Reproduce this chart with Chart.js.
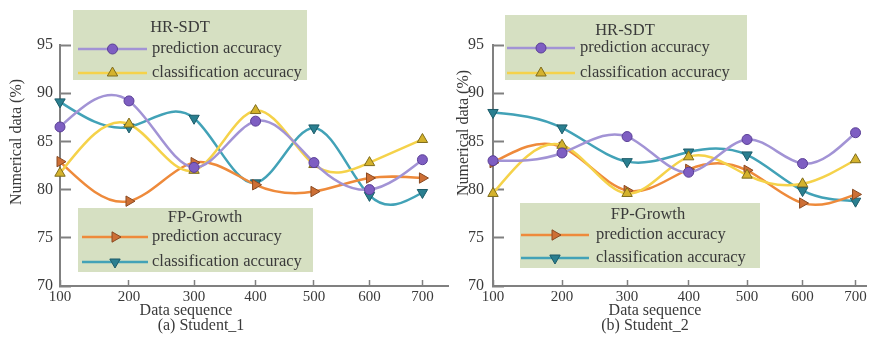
<!DOCTYPE html>
<html>
<head>
<meta charset="utf-8">
<title>Prediction and classification accuracy</title>
<script src="https://cdn.jsdelivr.net/npm/chart.js@4.4.1/dist/chart.umd.min.js"></script>
<style>
  body { margin: 0; background: #fff; }
  .wrap { position: absolute; top: 0; height: 344px; }
  #left { left: 0; width: 455px; }
  #right { left: 455px; width: 420px; }
</style>
</head>
<body>
<div class="wrap" id="left"><canvas id="chart1"></canvas></div>
<div class="wrap" id="right"><canvas id="chart2"></canvas></div>
<script>
// x values and y ticks
const sequence = [100, 200, 300, 400, 500, 600, 700];
const yTicks = [70, 75, 80, 85, 90, 95];
const rowLabels = ["prediction accuracy", "classification accuracy"];

// (a) Student_1
const s1HrPrediction = [86.5, 89.2, 82.3, 87.1, 82.8, 80.0, 83.1];
const s1HrClassification = [81.7, 86.8, 82.0, 88.2, 82.6, 82.8, 85.2];
const s1FpPrediction = [82.9, 78.8, 82.8, 80.5, 79.8, 81.2, 81.2];
const s1FpClassification = [89.1, 86.5, 87.4, 80.7, 86.4, 79.4, 79.7];

// (b) Student_2
const s2HrPrediction = [83.0, 83.8, 85.5, 81.8, 85.2, 82.7, 85.9];
const s2HrClassification = [79.6, 84.6, 79.6, 83.4, 81.5, 80.6, 83.1];
const s2FpPrediction = [82.8, 84.4, 79.9, 82.1, 82.0, 78.6, 79.5];
const s2FpClassification = [88.0, 86.4, 82.9, 83.9, 83.6, 79.9, 78.8];

const serif = "Liberation Serif";
const textColor = "#3a3a3a";
const axisColor = "#808080";

const series = {
  hrPred:  { line: "#a293d5", fill: "#7e5ec2", edge: "#5a3f96", pointStyle: "circle",   rotation: 0,   radius: 5 },
  hrClass: { line: "#f5d24a", fill: "#d4b22c", edge: "#7f6c1c", pointStyle: "triangle", rotation: 0,   radius: 6 },
  fpPred:  { line: "#ee8a3b", fill: "#cd6f35", edge: "#8a4a22", pointStyle: "triangle", rotation: 90,  radius: 6 },
  fpClass: { line: "#42a2b7", fill: "#2a7f90", edge: "#1c5b68", pointStyle: "triangle", rotation: 180, radius: 6 }
};

// x axis is spaced like log(v + 1500): tick gaps shrink to the right
const SHIFT = 1500;
class SequenceScale extends Chart.LinearScale {
  static id = "sequence";
  static defaults = Chart.LinearScale.defaults;
  warp(v) { return Math.log(v + SHIFT); }
  getPixelForValue(value) {
    const a = this.warp(this.min), b = this.warp(this.max);
    return this.getPixelForDecimal((this.warp(value) - a) / (b - a));
  }
  getValueForPixel(pixel) {
    const a = this.warp(this.min), b = this.warp(this.max);
    return Math.exp(a + this.getDecimalForPixel(pixel) * (b - a)) - SHIFT;
  }
}
Chart.register(SequenceScale);

// replace the default bezier control points with a natural cubic spline y(x)
const naturalSpline = {
  id: "naturalSpline",
  beforeDatasetDraw(chart, args) {
    const line = args.meta.dataset;
    const pts = args.meta.data;
    const n = pts.length;
    if (!line || n < 3) return;
    line.updateControlPoints(chart.chartArea);
    const x = pts.map((p) => p.x), y = pts.map((p) => p.y);
    const h = [];
    for (let i = 0; i < n - 1; i++) h.push(x[i + 1] - x[i]);
    // tridiagonal solve for second derivatives, ends held at zero
    const M = new Array(n).fill(0);
    const c = new Array(n).fill(0), d = new Array(n).fill(0);
    for (let i = 1; i < n - 1; i++) {
      const a = h[i - 1], b = 2 * (h[i - 1] + h[i]), cc = h[i];
      const r = 6 * ((y[i + 1] - y[i]) / h[i] - (y[i] - y[i - 1]) / h[i - 1]);
      const den = b - a * c[i - 1];
      c[i] = cc / den;
      d[i] = (r - a * d[i - 1]) / den;
    }
    for (let i = n - 2; i >= 1; i--) M[i] = d[i] - c[i] * M[i + 1];
    for (let i = 0; i < n - 1; i++) {
      const s = (y[i + 1] - y[i]) / h[i];
      const d0 = s - h[i] * (2 * M[i] + M[i + 1]) / 6;
      const d1 = s + h[i] * (M[i] + 2 * M[i + 1]) / 6;
      pts[i].cp2x = x[i] + h[i] / 3;
      pts[i].cp2y = y[i] + d0 * h[i] / 3;
      pts[i + 1].cp1x = x[i + 1] - h[i] / 3;
      pts[i + 1].cp1y = y[i + 1] - d1 * h[i] / 3;
    }
  }
};

function makeDataset(key, label, values) {
  const s = series[key];
  return {
    label: label,
    data: sequence.map((x, i) => ({ x: x, y: values[i] })),
    borderColor: s.line,
    backgroundColor: s.fill,
    borderWidth: 2.5,
    pointStyle: s.pointStyle,
    pointRotation: s.rotation,
    pointRadius: s.radius,
    pointBackgroundColor: s.fill,
    pointBorderColor: s.edge,
    pointBorderWidth: 1,
    tension: 0.5,
    clip: false,
    fill: false
  };
}

// grouped legend boxes and free text (axis titles, captions)
const decor = {
  id: "decor",
  beforeDatasetsDraw(chart, args, opts) {
    const ctx = chart.ctx;
    ctx.save();
    opts.legends.forEach((lg) => {
      const [bx, by, bw, bh] = lg.box;
      ctx.fillStyle = "#d6e0c2";
      ctx.fillRect(bx, by, bw, bh);
      ctx.font = "16.5px '" + serif + "'";
      ctx.textBaseline = "middle";
      ctx.textAlign = "center";
      ctx.fillStyle = textColor;
      ctx.fillText(lg.title, lg.titleAt[0], lg.titleAt[1]);
      lg.keys.forEach((key, i) => {
        const s = series[key];
        const y = lg.rows[i];
        ctx.strokeStyle = s.line;
        ctx.lineWidth = 2.5;
        ctx.beginPath();
        ctx.moveTo(lg.line[0], y);
        ctx.lineTo(lg.line[1], y);
        ctx.stroke();
        ctx.fillStyle = s.fill;
        ctx.strokeStyle = s.edge;
        ctx.lineWidth = 1;
        Chart.helpers.drawPoint(ctx, { pointStyle: s.pointStyle, rotation: s.rotation, radius: s.radius, borderWidth: 1 },
          (lg.line[0] + lg.line[1]) / 2, y);
        ctx.fillStyle = textColor;
        ctx.textAlign = "left";
        ctx.fillText(rowLabels[i], lg.text, y);
      });
    });
    ctx.restore();
  },
  afterDraw(chart, args, opts) {
    const ctx = chart.ctx;
    ctx.save();
    ctx.fillStyle = textColor;
    ctx.font = "16px '" + serif + "'";
    ctx.textAlign = "center";
    ctx.textBaseline = "middle";
    opts.texts.forEach((t) => {
      ctx.save();
      ctx.translate(t.x, t.y);
      if (t.rotate) ctx.rotate(-Math.PI / 2);
      ctx.fillText(t.text, 0, 0);
      ctx.restore();
    });
    ctx.restore();
  }
};

function makeChart(id, datasets, cfg) {
  return new Chart(document.getElementById(id), {
    type: "line",
    data: { datasets: datasets },
    plugins: [decor, naturalSpline],
    options: {
      responsive: true,
      maintainAspectRatio: false,
      animation: false,
      layout: { padding: { top: 45, right: 5, left: 0, bottom: 0 } },
      plugins: {
        legend: { display: false },
        tooltip: { enabled: false },
        decor: { legends: cfg.legends, texts: cfg.texts }
      },
      scales: {
        x: {
          type: "sequence",
          min: 100,
          max: cfg.xMax,
          afterBuildTicks: (s) => { s.ticks = sequence.map((v) => ({ value: v })); },
          afterFit: (s) => { s.height = 58; },
          grid: { drawOnChartArea: false, tickLength: -6, tickColor: axisColor, tickWidth: 1.5 },
          border: { color: axisColor, width: 2 },
          ticks: { padding: 8, maxRotation: 0, autoSkip: false, color: textColor, font: { family: serif, size: 15 } }
        },
        y: {
          min: 70,
          max: 95,
          afterBuildTicks: (s) => { s.ticks = yTicks.map((v) => ({ value: v })); },
          afterFit: (s) => { s.width = cfg.yWidth; },
          grid: { drawOnChartArea: false, tickLength: -11, tickColor: axisColor, tickWidth: 2 },
          border: { color: axisColor, width: 2 },
          ticks: { padding: cfg.yPad, color: textColor, font: { family: serif, size: 16 } }
        }
      }
    }
  });
}

makeChart("chart1", [
  makeDataset("hrPred", "HR-SDT prediction accuracy", s1HrPrediction),
  makeDataset("hrClass", "HR-SDT classification accuracy", s1HrClassification),
  makeDataset("fpPred", "FP-Growth prediction accuracy", s1FpPrediction),
  makeDataset("fpClass", "FP-Growth classification accuracy", s1FpClassification)
], {
  xMax: 750,
  yWidth: 60,
  yPad: 18,
  legends: [
    { title: "HR-SDT", box: [73, 10, 234, 70], titleAt: [180, 28], rows: [49, 73], line: [78, 147], text: 152, keys: ["hrPred", "hrClass"] },
    { title: "FP-Growth", box: [78, 208, 235, 64], titleAt: [205, 218], rows: [237, 262], line: [82, 148], text: 152, keys: ["fpPred", "fpClass"] }
  ],
  texts: [
    { text: "Numerical data (%)", x: 17, y: 142, rotate: true },
    { text: "Data sequence", x: 186, y: 311 },
    { text: "(a) Student_1", x: 201, y: 326 }
  ]
});

makeChart("chart2", [
  makeDataset("hrPred", "HR-SDT prediction accuracy", s2HrPrediction),
  makeDataset("hrClass", "HR-SDT classification accuracy", s2HrClassification),
  makeDataset("fpPred", "FP-Growth prediction accuracy", s2FpPrediction),
  makeDataset("fpClass", "FP-Growth classification accuracy", s2FpClassification)
], {
  xMax: 722,
  yWidth: 38,
  yPad: 20,
  legends: [
    { title: "HR-SDT", box: [50, 15, 242, 65], titleAt: [170, 31], rows: [48, 73], line: [52, 120], text: 125, keys: ["hrPred", "hrClass"] },
    { title: "FP-Growth", box: [65, 203, 240, 65], titleAt: [193, 215], rows: [235, 258], line: [66, 134], text: 141, keys: ["fpPred", "fpClass"] }
  ],
  texts: [
    { text: "Numerical data (%)", x: 9, y: 133, rotate: true },
    { text: "Data sequence", x: 200, y: 311 },
    { text: "(b) Student_2", x: 190, y: 326 }
  ]
});
</script>
</body>
</html>
